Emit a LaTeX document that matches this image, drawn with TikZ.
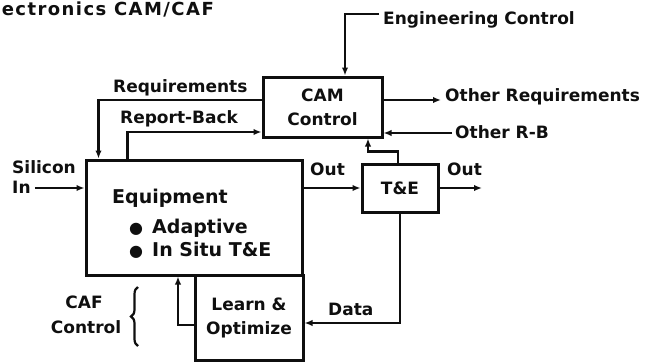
\documentclass[tikz,border=0pt]{standalone}
\usepackage{fontspec}
\setmainfont{DejaVu Sans}
\newfontfamily\titlefont{DejaVu Sans}[LetterSpace=8]
\usepackage{xcolor}
\definecolor{inkblack}{RGB}{15,15,15}
\usepackage{tikz}
\usetikzlibrary{positioning,arrows.meta,decorations.pathreplacing}

\begin{document}
\begin{tikzpicture}[x=1pt,y=-1pt,
  box/.style={draw=inkblack,line width=3pt,align=center,text=inkblack,
              font=\bfseries\fontsize{17}{24}\selectfont,inner sep=0pt},
  lbl/.style={font=\bfseries\fontsize{17}{20}\selectfont,inner sep=0pt,text=inkblack},
  body/.style={font=\bfseries\fontsize{19}{22}\selectfont,inner sep=0pt,text=inkblack},
  flow/.style={draw=inkblack,line width=2.5pt,-{Latex[length=8pt,width=6.5pt]}}]
\useasboundingbox (0,0) rectangle (652,362);

% blocks
\node[box,minimum width=119pt,minimum height=60pt] (cam) at (322.5,107) {CAM\\Control};
\node[box,minimum width=216pt,minimum height=115pt] (equip) at (194,217.5) {};
\node[box,minimum width=76pt,minimum height=48pt] (te) at (400,188) {T\&E};
\node[box,minimum width=108pt,minimum height=85pt] (learn) at (249,317.5) {Learn \&\\Optimize};

% text inside the equipment block
\node[body,anchor=base west] (eqname) at (112,203) {Equipment};
\node[body,anchor=base west] (eqadapt) at (129,233) {\makebox[23pt][l]{\fontsize{16}{16}\selectfont ●}Adaptive};
\node[body,anchor=base west] (eqsitu) at (129,256) {\makebox[23pt][l]{\fontsize{16}{16}\selectfont ●}In Situ T\&E};

% labels
\node[anchor=base east,inner sep=0pt,text=inkblack,font=\titlefont\bfseries\fontsize{18}{20}\selectfont] (title) at (214,15) {ectronics CAM/CAF};
\node[lbl,anchor=base west] (eng) at (383,24) {Engineering Control};
\node[lbl,anchor=base west] (req) at (113,92) {Requirements};
\node[lbl,anchor=base west] (rb) at (120,123) {Report-Back};
\node[lbl,anchor=base west] (oreq) at (445,101) {Other Requirements};
\node[lbl,anchor=base west] (orb) at (455,138) {Other R-B};
\node[lbl,anchor=base west] (sil) at (12,173) {Silicon};
\node[lbl,anchor=base west] (sin) at (12,193) {In};
\node[lbl,anchor=base west] (outa) at (310,175) {Out};
\node[lbl,anchor=base west] (outb) at (447,175) {Out};
\node[lbl,anchor=base west] (data) at (328,315) {Data};
\node[lbl,anchor=base] (caf) at (84,308) {CAF};
\node[lbl,anchor=base] (cafctl) at (86,333) {Control};
\coordinate (outend) at (482,188);

% connectors
\draw[flow] ([xshift=-4pt,yshift=10pt]eng.base west) -| ([xshift=22.5pt]cam.north);
\draw[flow] ([yshift=7pt]cam.east) -- ([xshift=-4pt,yshift=1pt]oreq.base west);
\draw[flow] ([xshift=-3pt,yshift=5pt]orb.base west) -- ([yshift=-26pt]cam.east);
\draw[flow] ([yshift=7pt]cam.west) -| ([xshift=14pt]equip.north west);
\draw[flow] ([xshift=43pt]equip.north west) |- ([yshift=-25pt]cam.west);
\draw[flow] ([xshift=4pt,yshift=5pt]sin.base east) -- ([yshift=29.5pt]equip.west);
\draw[flow] (equip.east |- te.west) -- (te.west);
\draw[flow] (te.east) -- (outend);
\draw[flow] ([xshift=-2pt]te.north) -- ++(0,-11) -| ([xshift=45.5pt]cam.south);
\draw[flow] (te.south) |- ([yshift=-5.5pt]learn.east);
\draw[flow] ([yshift=-7.5pt]learn.west) -| ([xshift=-16pt]equip.south);

% CAF brace
\draw[inkblack,line width=2.2pt,decorate,decoration={brace,amplitude=7pt}] (138,346) -- (138,287);
\end{tikzpicture}
\end{document}
